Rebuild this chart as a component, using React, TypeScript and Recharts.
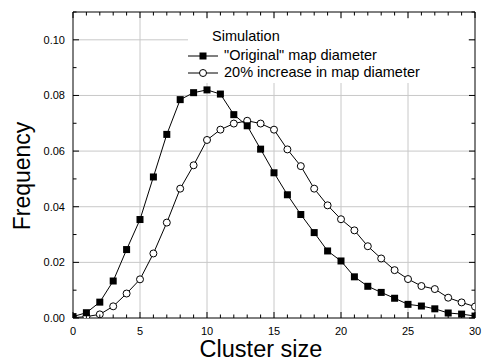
import React from "react"
import { LineChart, Line, XAxis, YAxis, ReferenceLine, Label } from "recharts"

const clusterSize = [0, 1, 2, 3, 4, 5, 6, 7, 8, 9, 10, 11, 12, 13, 14, 15, 16, 17, 18, 19, 20, 21, 22, 23, 24, 25, 26, 27, 28, 29, 30]
const originalDiameter = [0.0005, 0.0019, 0.0057, 0.0133, 0.0246, 0.0354, 0.0507, 0.066, 0.0785, 0.081, 0.082, 0.0805, 0.0731, 0.0691, 0.0607, 0.0522, 0.0443, 0.0372, 0.0307, 0.0241, 0.0205, 0.0148, 0.0114, 0.0092, 0.0071, 0.0049, 0.0043, 0.0033, 0.0018, 0.0014, 0.0007]
const increasedDiameter = [0.0001, 0.0005, 0.0013, 0.0042, 0.0088, 0.0139, 0.0232, 0.0343, 0.0465, 0.0549, 0.064, 0.0677, 0.0699, 0.0709, 0.0699, 0.0677, 0.0606, 0.0546, 0.0465, 0.0405, 0.0355, 0.0315, 0.0258, 0.0214, 0.0172, 0.014, 0.0115, 0.0104, 0.0073, 0.0056, 0.0041]

const xTicks = [0, 1, 2, 3, 4, 5, 6, 7, 8, 9, 10, 11, 12, 13, 14, 15, 16, 17, 18, 19, 20, 21, 22, 23, 24, 25, 26, 27, 28, 29, 30]
const yTicks = [0, 0.01, 0.02, 0.03, 0.04, 0.05, 0.06, 0.07, 0.08, 0.09, 0.1, 0.11]
const xGrid = [5, 10, 15, 20, 25]
const yGrid = [0.02, 0.04, 0.06, 0.08, 0.1]

const FONT = "'Liberation Sans', Arial, sans-serif"
const GRID = "#c8c8c8"

const data = clusterSize.map((size, i) => ({
  size,
  original: originalDiameter[i],
  increased: increasedDiameter[i],
}))

const isMajorX = (v: number) => Math.round(v) % 5 === 0
const isMajorY = (v: number) => Math.round(v * 100) % 2 === 0

const BottomTick = ({ x, y, payload }: any) => {
  const major = isMajorX(payload.value)
  return (
    <g>
      <line x1={x} x2={x} y1={y} y2={y - (major ? 6 : 3.5)} stroke="#000" />
      {major && (
        <text x={x} y={y + 17} textAnchor="middle" fontSize={11} fontFamily={FONT} fill="#000">
          {Math.round(payload.value)}
        </text>
      )}
    </g>
  )
}

const TopTick = ({ x, y, payload }: any) => (
  <line x1={x} x2={x} y1={y} y2={y + (isMajorX(payload.value) ? 6 : 3.5)} stroke="#000" />
)

const LeftTick = ({ x, y, payload }: any) => {
  const major = isMajorY(payload.value)
  return (
    <g>
      <line x1={x} x2={x + (major ? 6 : 3.5)} y1={y} y2={y} stroke="#000" />
      {major && (
        <text x={x - 8} y={y + 4} textAnchor="end" fontSize={11} fontFamily={FONT} fill="#000">
          {payload.value.toFixed(2)}
        </text>
      )}
    </g>
  )
}

const RightTick = ({ x, y, payload }: any) => (
  <line x1={x} x2={x - (isMajorY(payload.value) ? 6 : 3.5)} y1={y} y2={y} stroke="#000" />
)

const SquareDot = ({ cx, cy, index }: any) => (
  <rect key={`sq-${index}`} x={cx - 3.5} y={cy - 3.5} width={7} height={7} fill="#000" />
)

const CircleDot = ({ cx, cy, index }: any) => (
  <circle key={`ci-${index}`} cx={cx} cy={cy} r={3.5} fill="#fff" stroke="#000" strokeWidth={1} />
)

const LegendRow = ({ filled, text }: { filled: boolean; text: string }) => (
  <div style={{ display: "flex", alignItems: "center", height: 17 }}>
    <svg width={34} height={12} style={{ marginRight: 2 }}>
      <line x1={0} x2={30} y1={6} y2={6} stroke="#000" />
      {filled ? (
        <rect x={11.5} y={2.5} width={7} height={7} fill="#000" />
      ) : (
        <circle cx={15} cy={6} r={3.5} fill="#fff" stroke="#000" />
      )}
    </svg>
    <span>{text}</span>
  </div>
)

export default function App() {
  return (
    <div style={{ position: "absolute", left: 0, top: 0, width: 482, height: 360, background: "#fff" }}>
      <LineChart width={482} height={360} data={data} margin={{ top: 10, right: 5, bottom: 0, left: 0 }}>
        {xGrid.map((v) => (
          <ReferenceLine key={`gx-${v}`} x={v} stroke={GRID} />
        ))}
        {yGrid.map((v) => (
          <ReferenceLine key={`gy-${v}`} y={v} stroke={GRID} />
        ))}
        <XAxis
          dataKey="size"
          type="number"
          domain={[0, 30]}
          ticks={xTicks}
          interval={0}
          allowDataOverflow
          height={42}
          tickSize={0}
          tickMargin={0}
          tick={<BottomTick />}
          axisLine={{ stroke: "#000" }}
        >
          <Label
            content={({ viewBox }: any) => (
              <text x={viewBox.x + 188} y={viewBox.y + 38.5} textAnchor="middle" fontSize={23.5} fontFamily={FONT} fill="#000">
                Cluster size
              </text>
            )}
          />
        </XAxis>
        <XAxis
          xAxisId="top"
          dataKey="size"
          orientation="top"
          type="number"
          domain={[0, 30]}
          ticks={xTicks}
          interval={0}
          allowDataOverflow
          height={2}
          tickSize={0}
          tickMargin={0}
          tick={<TopTick />}
          axisLine={{ stroke: "#000" }}
        />
        <YAxis
          type="number"
          domain={[0, 0.11]}
          ticks={yTicks}
          interval={0}
          allowDataOverflow
          width={73}
          tickSize={0}
          tickMargin={0}
          tick={<LeftTick />}
          axisLine={{ stroke: "#000" }}
        >
          <Label
            content={({ viewBox }: any) => {
              const cx = 22
              const cy = viewBox.y + viewBox.height / 2 + 11
              return (
                <text x={cx} y={cy} transform={`rotate(-90 ${cx} ${cy})`} dy={8} textAnchor="middle" fontSize={23} fontFamily={FONT} fill="#000">
                  Frequency
                </text>
              )
            }}
          />
        </YAxis>
        <YAxis
          yAxisId="right"
          orientation="right"
          type="number"
          domain={[0, 0.11]}
          ticks={yTicks}
          interval={0}
          allowDataOverflow
          width={2}
          tickSize={0}
          tickMargin={0}
          tick={<RightTick />}
          axisLine={{ stroke: "#000" }}
        />
        {/* invisible series so the top and right frame axes get drawn */}
        <Line
          xAxisId="top"
          yAxisId="right"
          dataKey="original"
          stroke="none"
          dot={false}
          activeDot={false}
          legendType="none"
          isAnimationActive={false}
        />
        <Line
          dataKey="increased"
          stroke="#000"
          strokeWidth={1}
          dot={<CircleDot />}
          activeDot={false}
          isAnimationActive={false}
        />
        <Line
          dataKey="original"
          stroke="#000"
          strokeWidth={1}
          dot={<SquareDot />}
          activeDot={false}
          isAnimationActive={false}
        />
      </LineChart>
      <div
        style={{
          position: "absolute",
          left: 188,
          top: 19,
          width: 280,
          height: 64,
          background: "#fff",
          fontFamily: FONT,
          fontSize: 14.5,
          color: "#000",
          lineHeight: "17px",
          paddingLeft: 24,
          paddingTop: 9,
          boxSizing: "border-box",
        }}
      >
        <div style={{ height: 19 }}>Simulation</div>
        <div style={{ marginLeft: -24 }}>
          <LegendRow filled text={'"Original" map diameter'} />
          <LegendRow filled={false} text="20% increase in map diameter" />
        </div>
      </div>
    </div>
  )
}
